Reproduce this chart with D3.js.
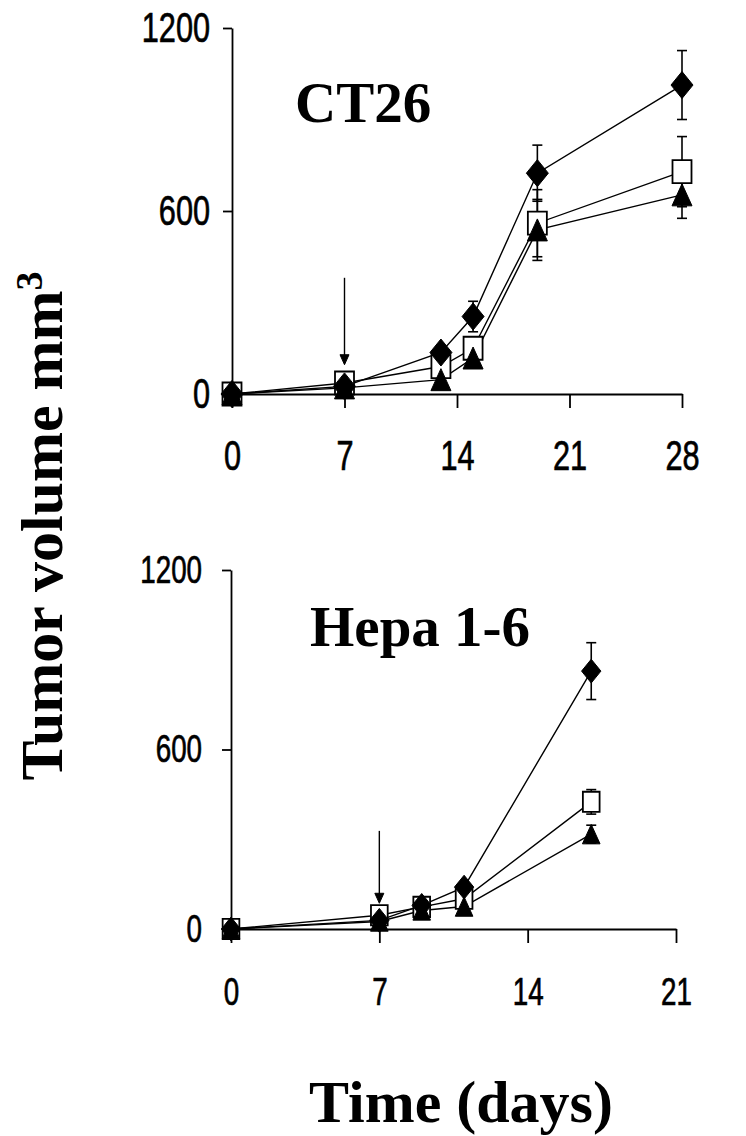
<!DOCTYPE html>
<html>
<head>
<meta charset="utf-8">
<script src="https://cdn.jsdelivr.net/npm/d3@7"></script>
<style>
  body { margin: 0; background: #fff; }
  svg { display: block; }
</style>
</head>
<body>
<svg id="chart" width="746" height="1136"></svg>
<script>
// CT26 panel (days after inoculation, tumor volume mm3)
const ct26Days = [0, 7, 13, 15, 19, 28];
const ct26Diamond = [0, 25, 136, 254, 724, 1013];
const ct26DiamondErr = [0, 0, 20, 50, 92, 113];
const ct26Square = [0, 36, 90, 150, 560, 729];
const ct26SquareErr = [0, 0, 0, 20, 110, 115];
const ct26Triangle = [0, 20, 47, 118, 538, 653];
const ct26TriangleErr = [0, 0, 0, 15, 100, 77];
const ct26XTicks = [0, 7, 14, 21, 28];
const ct26Arrow = [381, 96];      // arrow from / to (y values) at injection day

// Hepa 1-6 panel
const hepaDays = [0, 7, 9, 11, 17];
const hepaDiamond = [0, 29, 79, 140, 862];
const hepaDiamondErr = [0, 0, 12, 10, 95];
const hepaSquare = [0, 46, 74, 101, 425];
const hepaSquareErr = [0, 0, 15, 10, 41];
const hepaTriangle = [0, 25, 62, 75, 317];
const hepaTriangleErr = [0, 0, 10, 8, 30];
const hepaXTicks = [0, 7, 14, 21];
const hepaArrow = [328, 86];

const yTicks = [0, 600, 1200];
const injectionDay = 7;

const svg = d3.select('#chart');
const tickFont = 'Liberation Sans, Arial, sans-serif';
const titleFont = 'Liberation Serif, Times New Roman, serif';

// squeeze tick labels horizontally (narrow font look)
function condense(sel, k) {
    sel.each(function () {
        const w = this.getComputedTextLength();
        d3.select(this).attr('textLength', w * k).attr('lengthAdjust', 'spacingAndGlyphs');
    });
}

function markerPath(shape, s) {
    if (shape === 'diamond') {
        const w = 11 * s, h = 13.5 * s;
        return `M0,${-h}L${w},0L0,${h}L${-w},0Z`;
    }
    if (shape === 'square') {
        const w = 9.5 * s, h = 11.5 * s;
        return `M${-w},${-h}H${w}V${h}H${-w}Z`;
    }
    // triangle
    const w = 10 * s, h = 11 * s;
    return `M0,${-h}L${w},${h}L${-w},${h}Z`;
}

function drawPanel(cfg) {
    const x = d3.scaleLinear().domain([0, cfg.xMax]).range([cfg.left, cfg.right]);
    const y = d3.scaleLinear().domain([0, 1200]).range([cfg.bottom, cfg.top]);
    const g = svg.append('g');

    // y axis
    const yAxis = g.append('g')
        .attr('transform', `translate(${cfg.left},0)`)
        .call(d3.axisLeft(y).tickValues(yTicks).tickFormat(d3.format('d'))
            .tickSize(9).tickSizeOuter(0).tickPadding(cfg.yPad));
    // x axis
    const xAxis = g.append('g')
        .attr('transform', `translate(0,${cfg.bottom})`)
        .call(d3.axisBottom(x).tickValues(cfg.xTicks).tickFormat(d3.format('d'))
            .tickSize(14).tickSizeOuter(0).tickPadding(cfg.xPad));

    [yAxis, xAxis].forEach(ax => {
        ax.select('.domain').attr('stroke', '#000').attr('stroke-width', 1.8);
        ax.selectAll('.tick line').attr('stroke', '#000').attr('stroke-width', 1.8);
        ax.selectAll('.tick text')
            .attr('fill', '#000')
            .attr('stroke', '#000')
            .attr('stroke-width', 0.7)
            .attr('font-family', tickFont)
            .attr('font-size', cfg.tickSize);
    });
    condense(yAxis.selectAll('.tick text'), 0.73);
    condense(xAxis.selectAll('.tick text'), 0.73);

    const series = [
        { vals: cfg.square, errs: cfg.squareErr, shape: 'square' },
        { vals: cfg.diamond, errs: cfg.diamondErr, shape: 'diamond' },
        { vals: cfg.triangle, errs: cfg.triangleErr, shape: 'triangle' }
    ];

    const line = d3.line().x(d => x(d.day)).y(d => y(d.v));

    // connecting lines
    series.forEach(s => {
        const pts = cfg.days.map((d, i) => ({ day: d, v: s.vals[i], e: s.errs[i] }));
        s.pts = pts;
        g.append('path')
            .datum(pts)
            .attr('d', line)
            .attr('fill', 'none')
            .attr('stroke', '#000')
            .attr('stroke-width', 1.4);
    });

    // error bars
    series.forEach(s => {
        const eb = g.append('g').attr('stroke', '#000').attr('stroke-width', 1.6);
        s.pts.filter(p => p.e > 0).forEach(p => {
            const cx = x(p.day);
            eb.append('line').attr('x1', cx).attr('x2', cx)
                .attr('y1', y(p.v - p.e)).attr('y2', y(p.v + p.e));
            [p.v - p.e, p.v + p.e].forEach(v => {
                eb.append('line').attr('x1', cx - 5).attr('x2', cx + 5)
                    .attr('y1', y(v)).attr('y2', y(v));
            });
        });
    });

    // markers
    series.forEach(s => {
        g.append('g').selectAll('path')
            .data(s.pts)
            .join('path')
            .attr('transform', d => `translate(${x(d.day)},${y(d.v)})`)
            .attr('d', markerPath(s.shape, cfg.markerScale))
            .attr('fill', s.shape === 'square' ? '#fff' : '#000')
            .attr('stroke', '#000')
            .attr('stroke-width', s.shape === 'square' ? 1.8 : 1);
    });

    // injection arrow
    const ax = x(injectionDay);
    const yFrom = y(cfg.arrow[0]);
    const yTo = y(cfg.arrow[1]);
    g.append('line')
        .attr('x1', ax).attr('x2', ax)
        .attr('y1', yFrom).attr('y2', yTo - 8)
        .attr('stroke', '#000').attr('stroke-width', 1.4);
    g.append('path')
        .attr('d', `M${ax - 4.5},${yTo - 10}L${ax + 4.5},${yTo - 10}L${ax},${yTo}Z`)
        .attr('fill', '#000').attr('stroke', '#000').attr('stroke-width', 1);

    // panel title
    g.append('text')
        .attr('x', cfg.titleX)
        .attr('y', cfg.titleY)
        .attr('font-family', titleFont)
        .attr('font-weight', 'bold')
        .attr('font-size', 57)
        .attr('fill', '#000')
        .text(cfg.title);
}

drawPanel({
    title: 'CT26', titleX: 295, titleY: 122,
    days: ct26Days, xMax: 28, xTicks: ct26XTicks,
    diamond: ct26Diamond, diamondErr: ct26DiamondErr,
    square: ct26Square, squareErr: ct26SquareErr,
    triangle: ct26Triangle, triangleErr: ct26TriangleErr,
    arrow: ct26Arrow,
    left: 232, right: 682, top: 28, bottom: 394,
    tickSize: 42, yPad: 13, xPad: 32, markerScale: 1
});

drawPanel({
    title: 'Hepa 1-6', titleX: 310, titleY: 646,
    days: hepaDays, xMax: 21, xTicks: hepaXTicks,
    diamond: hepaDiamond, diamondErr: hepaDiamondErr,
    square: hepaSquare, squareErr: hepaSquareErr,
    triangle: hepaTriangle, triangleErr: hepaTriangleErr,
    arrow: hepaArrow,
    left: 231, right: 676, top: 570, bottom: 929,
    tickSize: 38, yPad: 20, xPad: 35, markerScale: 0.88
});

// shared axis titles
const yLabel = svg.append('text')
    .attr('transform', 'translate(62,526) rotate(-90)')
    .attr('text-anchor', 'middle')
    .attr('font-family', titleFont)
    .attr('font-weight', 'bold')
    .attr('font-size', 60)
    .attr('fill', '#000');
yLabel.append('tspan').text('Tumor volume mm');
yLabel.append('tspan').attr('font-size', 38).attr('dy', -20).text('3');

svg.append('text')
    .attr('x', 461)
    .attr('y', 1122)
    .attr('text-anchor', 'middle')
    .attr('font-family', titleFont)
    .attr('font-weight', 'bold')
    .attr('font-size', 60)
    .attr('fill', '#000')
    .text('Time (days)');
</script>
</body>
</html>
